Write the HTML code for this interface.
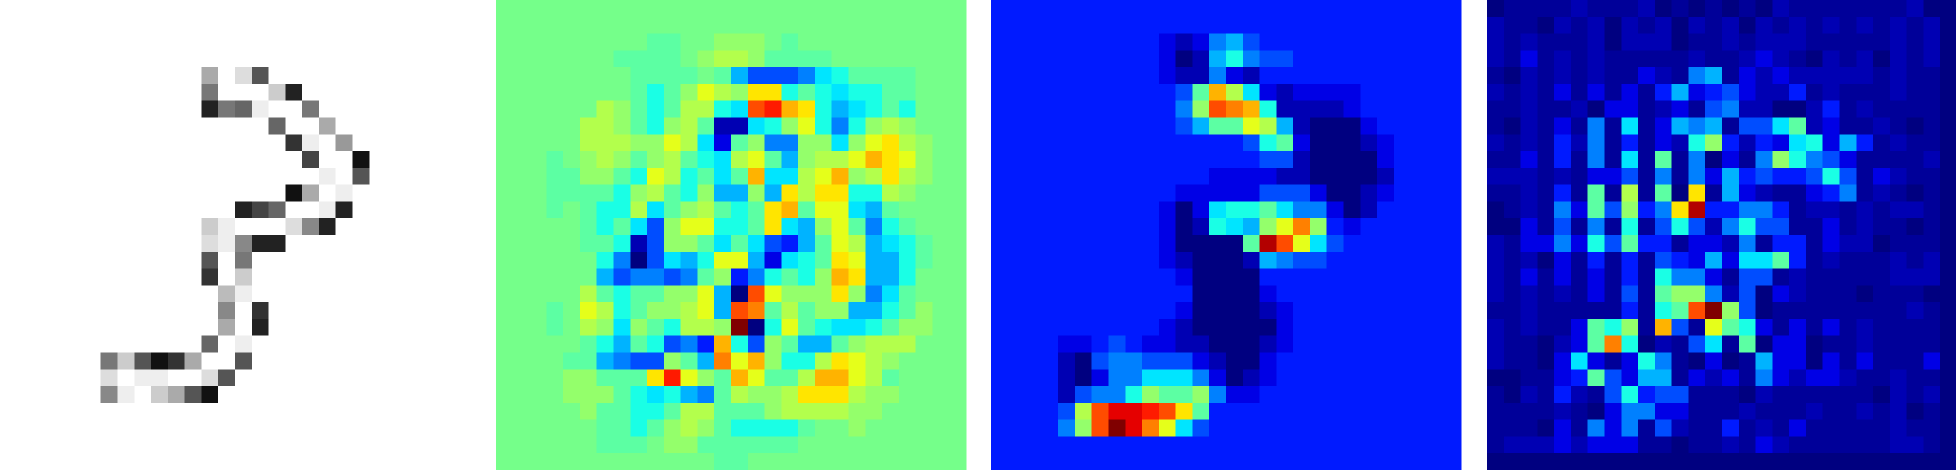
<!DOCTYPE html>
<html><head><meta charset="utf-8"><style>
html,body{margin:0;padding:0;background:#fff;width:1956px;height:470px;overflow:hidden}
svg{display:block}
</style></head><body>
<svg id="fig" width="1956" height="470" viewBox="0 0 1956 470" shape-rendering="crispEdges" xmlns="http://www.w3.org/2000/svg"></svg>
<script>
// Grid categories
const gridSize = 28;
// Level codes: "0".."k" => value i/20 (9 => 0.465, a => 0.52); "." => 0.49 ; "x" => 0.025
const levelChars = "0123456789abcdefghijk";
// Panel 1: grayscale input digit, hex digit gray levels (f = white), sparse [row, startCol, values]
const inputDefault = "f";
const inputRows = [
[4,12,"afd5"],[5,12,"7fffc2"],[6,12,"276eff7"],[7,16,"6ffa"],[8,17,"3ef9"],
[9,18,"4ff1"],[10,19,"ef5"],[11,17,"1afe"],[12,14,"246ffe2"],[13,12,"cefffd82"],
[14,12,"de822"],[15,12,"5f7"],[16,12,"3fc"],[17,13,"be"],[18,13,"8f3"],
[19,13,"af2"],[20,12,"6fe"],[21,6,"7c513aff5"],[22,6,"dfeeffd5"],[23,6,"8efca51"]
];
// Panel 2: weight map (jet)
const weightDefault = ".";
const weightRows = [
[2,9,"99..aaa.9"],[3,7,"9999.abba9999"],[4,8,"9999.964445789999"],[5,8,"989acbadd89878899"],
[6,6,"ba989bb87ghed867898"],[7,5,"bba98ab91178ac858aba"],[8,5,"bbbaacb729a55aa7acdba"],
[9,3,"9.aba9ab987bc96abbcedca"],[10,3,"99aa98cb8979e77bceabdba"],[11,3,"99998ab98a66a6dbdd88ba"],
[12,3,"9.988b79ab989de9cc769"],[13,5,"98974acc889d76ac9589"],[14,5,"99814aa97974369cb6789"],
[15,6,"8504768cc62789dc6689"],[16,6,"6455459a35898aed668"],[17,5,"b9899aac60gcaaada579"],
[18,3,"9.cb89aabc6gf9b9aa6689a"],[19,3,"9.ba7a98bbak08c987789aa"],[20,5,"98698453e84a9669abbb"],
[21,4,"996544a96fcea88bdcba"],[22,4,"aa999dhca9ec99beecb9"],[23,4,"aaa9878659baabdddbaa"],
[24,5,"a99889bb999abbbbaa"],[25,6,"9989aba988889..a"],[26,6,"999.aa999999"],[27,13,"99"]
];
// Panel 3: relevance map (jet)
const relevanceDefault = "3";
const relevanceRows = [
[2,10,"212564"],[3,10,"20168544"],[4,10,"211521333"],[5,10,"349eb7212222"],
[6,10,"35agfe811112"],[7,11,"4699cb610002"],[8,15,"489200012"],[9,16,"44100002"],
[10,13,"22221100001"],[11,11,"2222244420012"],[12,10,"2027889755201"],[13,10,"201876acfa32"],
[14,10,"200009jgc74"],[15,10,"2100016544"],[16,10,"320000"],[17,10,"3300002"],
[18,10,"32000012"],[19,10,"21000002"],[20,4,"22343221100012"],[21,4,"1045544421002"],
[22,4,"1025577752012"],[23,4,"14558a99a522"],[24,4,"4bgiihgd9"],[25,4,"5agkifc74"]
];
// Panel 4: gradient magnitude map (jet), full rows
const gradientDefault = "0";
const gradientRows = [
"0xxxx1xxx10x0x0x01xxxxxxx100","1xx01x101x101x101x1x1x1x1x10","1x1xxx101110xx1x111xxxxx1x10",
"1x2x1x1xxxxx1xx121x01x101x10","x01x1x1xx21x56x21211111x1xx0","1x1x2x2x2x362342113x1xxx1xx0",
"xx1xx1022x12x45110013x1xxxx0","x01x2x5x7x2656x447912xx1x0x0","1x1x315x3x218a313278263x1xx0",
"xx2x3x5x7x9x502x5a8542xxxx10","111x1x224x5x5263433484x21xx0","xx1x3x9xbx90dx621xx235x1x0x0",
"0x1x5294a35dj33553x11x1x11x0","002x4x5x8x48415844xx2x1xx0x0","1x225284933x2215x33x2110xxx0",
"1x102x3x3x432627793x1xxx1x10","1x2x2x2x3x8552x44x1xxxxx1110","1x1x1x2x4x9aa514021xxx0xxx00",
"xx1xxxxx3x89gka40xxxxxxxx1x0","1x1xx298axe4xc982x2x2x1xxxx0","1xx0129f801x47x90220xx1xxxx0",
"1xx0272x285x020x62202x2xxx20","00xx2394266x212x521221xx1xx0","x01x31x48344xxx01xxxxxx01x10",
"xxxx1x025522xxx1xxx1xx1x10x0","xxx02x525x41xx3x1x2xxxxx1xx0","x11121222xx0xx1x21xxxxxx11x0",
"0000000000000000000000000000"
];

const NS = "http://www.w3.org/2000/svg";
const svg = document.getElementById("fig");
const panelX = [0, 496, 991, 1487];
const panelSize = 470;
const cell = panelSize / gridSize;

function clamp(v){return Math.max(0, Math.min(1, v));}
function jet(v){
  const r = clamp(1.5 - Math.abs(4*v - 3));
  const g = clamp(1.5 - Math.abs(4*v - 2));
  const b = clamp(1.5 - Math.abs(4*v - 1));
  return "rgb(" + Math.round(r*255) + "," + Math.round(g*255) + "," + Math.round(b*255) + ")";
}
function levelValue(ch){
  if (ch === ".") return 0.49;
  if (ch === "x") return 0.025;
  if (ch === "9") return 0.465;
  if (ch === "a") return 0.52;
  return levelChars.indexOf(ch) / 20;
}
function grayColor(ch){
  const g = parseInt(ch, 16) * 17;
  return "rgb(" + g + "," + g + "," + g + ")";
}
function expandSparse(rows, def){
  const grid = [];
  for (let r = 0; r < gridSize; r++) grid.push(new Array(gridSize).fill(def));
  rows.forEach(function(e){
    for (let i = 0; i < e[2].length; i++) grid[e[0]][e[1] + i] = e[2][i];
  });
  return grid;
}
function expandFull(rows){
  return rows.map(function(s){ return s.split(""); });
}
function drawPanel(idx, grid, colorFn, name){
  const g = document.createElementNS(NS, "g");
  
  
  svg.appendChild(g);
  const x0 = panelX[idx];
  for (let r = 0; r < gridSize; r++){
    for (let c = 0; c < gridSize; c++){
      const rect = document.createElementNS(NS, "rect");
      rect.setAttribute("x", (x0 + c*cell).toFixed(2));
      rect.setAttribute("y", (r*cell).toFixed(2));
      rect.setAttribute("width", (cell + 0.6).toFixed(2));
      rect.setAttribute("height", (cell + 0.6).toFixed(2));
      rect.setAttribute("fill", colorFn(grid[r][c]));
      
      
      g.appendChild(rect);
    }
  }
}
drawPanel(0, expandSparse(inputRows, inputDefault), grayColor, "input-digit-panel");
drawPanel(1, expandSparse(weightRows, weightDefault), function(ch){return jet(levelValue(ch));}, "weight-map-panel");
drawPanel(2, expandSparse(relevanceRows, relevanceDefault), function(ch){return jet(levelValue(ch));}, "relevance-map-panel");
drawPanel(3, expandFull(gradientRows), function(ch){return jet(levelValue(ch));}, "gradient-map-panel");
</script>
</body></html>
